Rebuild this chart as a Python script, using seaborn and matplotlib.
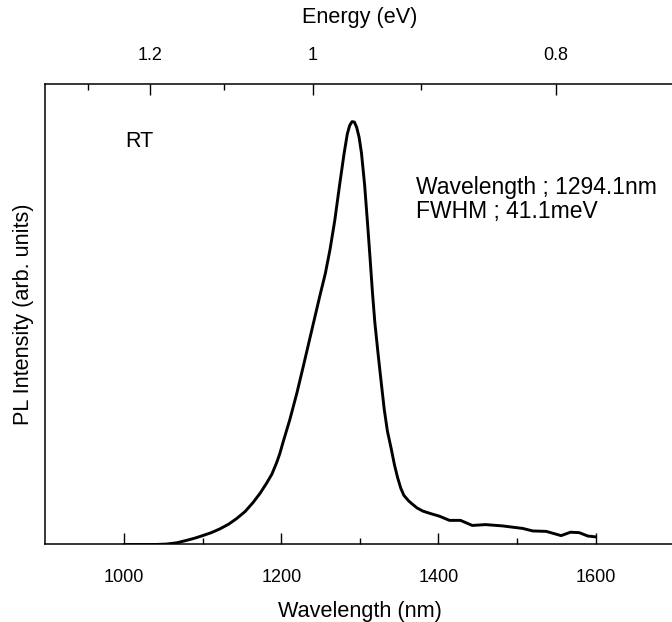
import numpy as np
import pandas as pd
import matplotlib
matplotlib.use("Agg")
import matplotlib.pyplot as plt
import seaborn as sns

# ---- data ----
wavelength_nm = [1000, 1020, 1040, 1054, 1067, 1080, 1090, 1100, 1111, 1122, 1133, 1143, 1154,
                 1164, 1173, 1181, 1188, 1194, 1198, 1202, 1211, 1220, 1228, 1239, 1249, 1256,
                 1262, 1268, 1274, 1280, 1284, 1287, 1290, 1293, 1296, 1299, 1302, 1306, 1310,
                 1313, 1316, 1319, 1323, 1327, 1331, 1335, 1340, 1344, 1348, 1352, 1356, 1362,
                 1367, 1373, 1380, 1390, 1401, 1414, 1428, 1443, 1460, 1481, 1507, 1520,
                 1537, 1556, 1568, 1579, 1590, 1600]
pl_intensity = [0.000, 0.000, 0.000, 0.001, 0.004, 0.010, 0.015, 0.021, 0.028, 0.037, 0.048, 0.061, 0.078,
                0.099, 0.121, 0.144, 0.166, 0.193, 0.214, 0.240, 0.296, 0.359, 0.421, 0.508, 0.587, 0.640,
                0.697, 0.765, 0.847, 0.925, 0.970, 0.990, 0.999, 0.998, 0.985, 0.962, 0.925, 0.850, 0.752,
                0.675, 0.595, 0.525, 0.453, 0.385, 0.319, 0.268, 0.225, 0.188, 0.158, 0.133, 0.116, 0.103,
                0.095, 0.086, 0.079, 0.073, 0.067, 0.057, 0.057, 0.045, 0.047, 0.044, 0.038, 0.032,
                0.031, 0.021, 0.029, 0.028, 0.020, 0.018]

wl_major = [1000, 1200, 1400, 1600]
wl_minor = [1100, 1300, 1500]
energy_major = [1.2, 1.0, 0.8]
energy_labels = ["1.2", "1", "0.8"]
energy_minor = [1.3, 1.1, 0.9]
HC = 1239.84  # eV*nm

annot_rt = "RT"
annot_lines = ["Wavelength ; 1294.1nm", "FWHM ; 41.1meV"]

df = pd.DataFrame({"Wavelength (nm)": wavelength_nm, "PL": pl_intensity})

sns.set_theme(style="white")
plt.rcParams["font.family"] = ["Liberation Sans", "DejaVu Sans"]
plt.rcParams["text.color"] = "black"
plt.rcParams["axes.labelcolor"] = "black"
plt.rcParams["xtick.color"] = "black"
plt.rcParams["ytick.color"] = "black"

fig = plt.figure(figsize=(6.72, 6.22), dpi=100)
ax = fig.add_axes([0.0677, 0.1246, 0.9357, 0.7404])

sns.lineplot(data=df, x="Wavelength (nm)", y="PL", ax=ax, color="black", linewidth=2.1)

ax.set_xlim(900, 1700)
ax.set_ylim(0, 1.088)
ax.set_yticks([])
ax.set_xticks(wl_major)
ax.set_xticklabels([str(v) for v in wl_major])
ax.set_xticks(wl_minor, minor=True)
ax.tick_params(axis="x", which="major", direction="in", length=8, width=1.0,
               labelsize=13, pad=17.5)
ax.tick_params(axis="x", which="minor", direction="in", length=4, width=1.0)
ax.set_xlabel("Wavelength (nm)", fontsize=15.6, labelpad=11)
ax.set_ylabel("PL Intensity (arb. units)", fontsize=15.6, labelpad=8)

for s in ["left", "bottom", "top"]:
    ax.spines[s].set_linewidth(1.1)
    ax.spines[s].set_color("black")
ax.spines["right"].set_visible(False)

ax2 = ax.twiny()
ax2.set_xlim(ax.get_xlim())
ax2.set_xticks([HC / e for e in energy_major])
ax2.set_xticklabels(energy_labels)
ax2.set_xticks([HC / e for e in energy_minor], minor=True)
ax2.tick_params(axis="x", which="major", direction="in", length=8, width=1.0,
                labelsize=13, pad=14.5)
ax2.tick_params(axis="x", which="minor", direction="in", length=4, width=1.0)
ax2.set_xlabel("Energy (eV)", fontsize=15.6, labelpad=17)
for s in ax2.spines.values():
    s.set_visible(False)

ax.text(0.1264, 0.874, annot_rt, transform=ax.transAxes, fontsize=15.5,
        ha="left", va="center")
ax.text(0.589, 0.776, annot_lines[0], transform=ax.transAxes, fontsize=16.5,
        ha="left", va="center")
ax.text(0.589, 0.722, annot_lines[1], transform=ax.transAxes, fontsize=16.5,
        ha="left", va="center")

fig.savefig("out.png", dpi=100)
